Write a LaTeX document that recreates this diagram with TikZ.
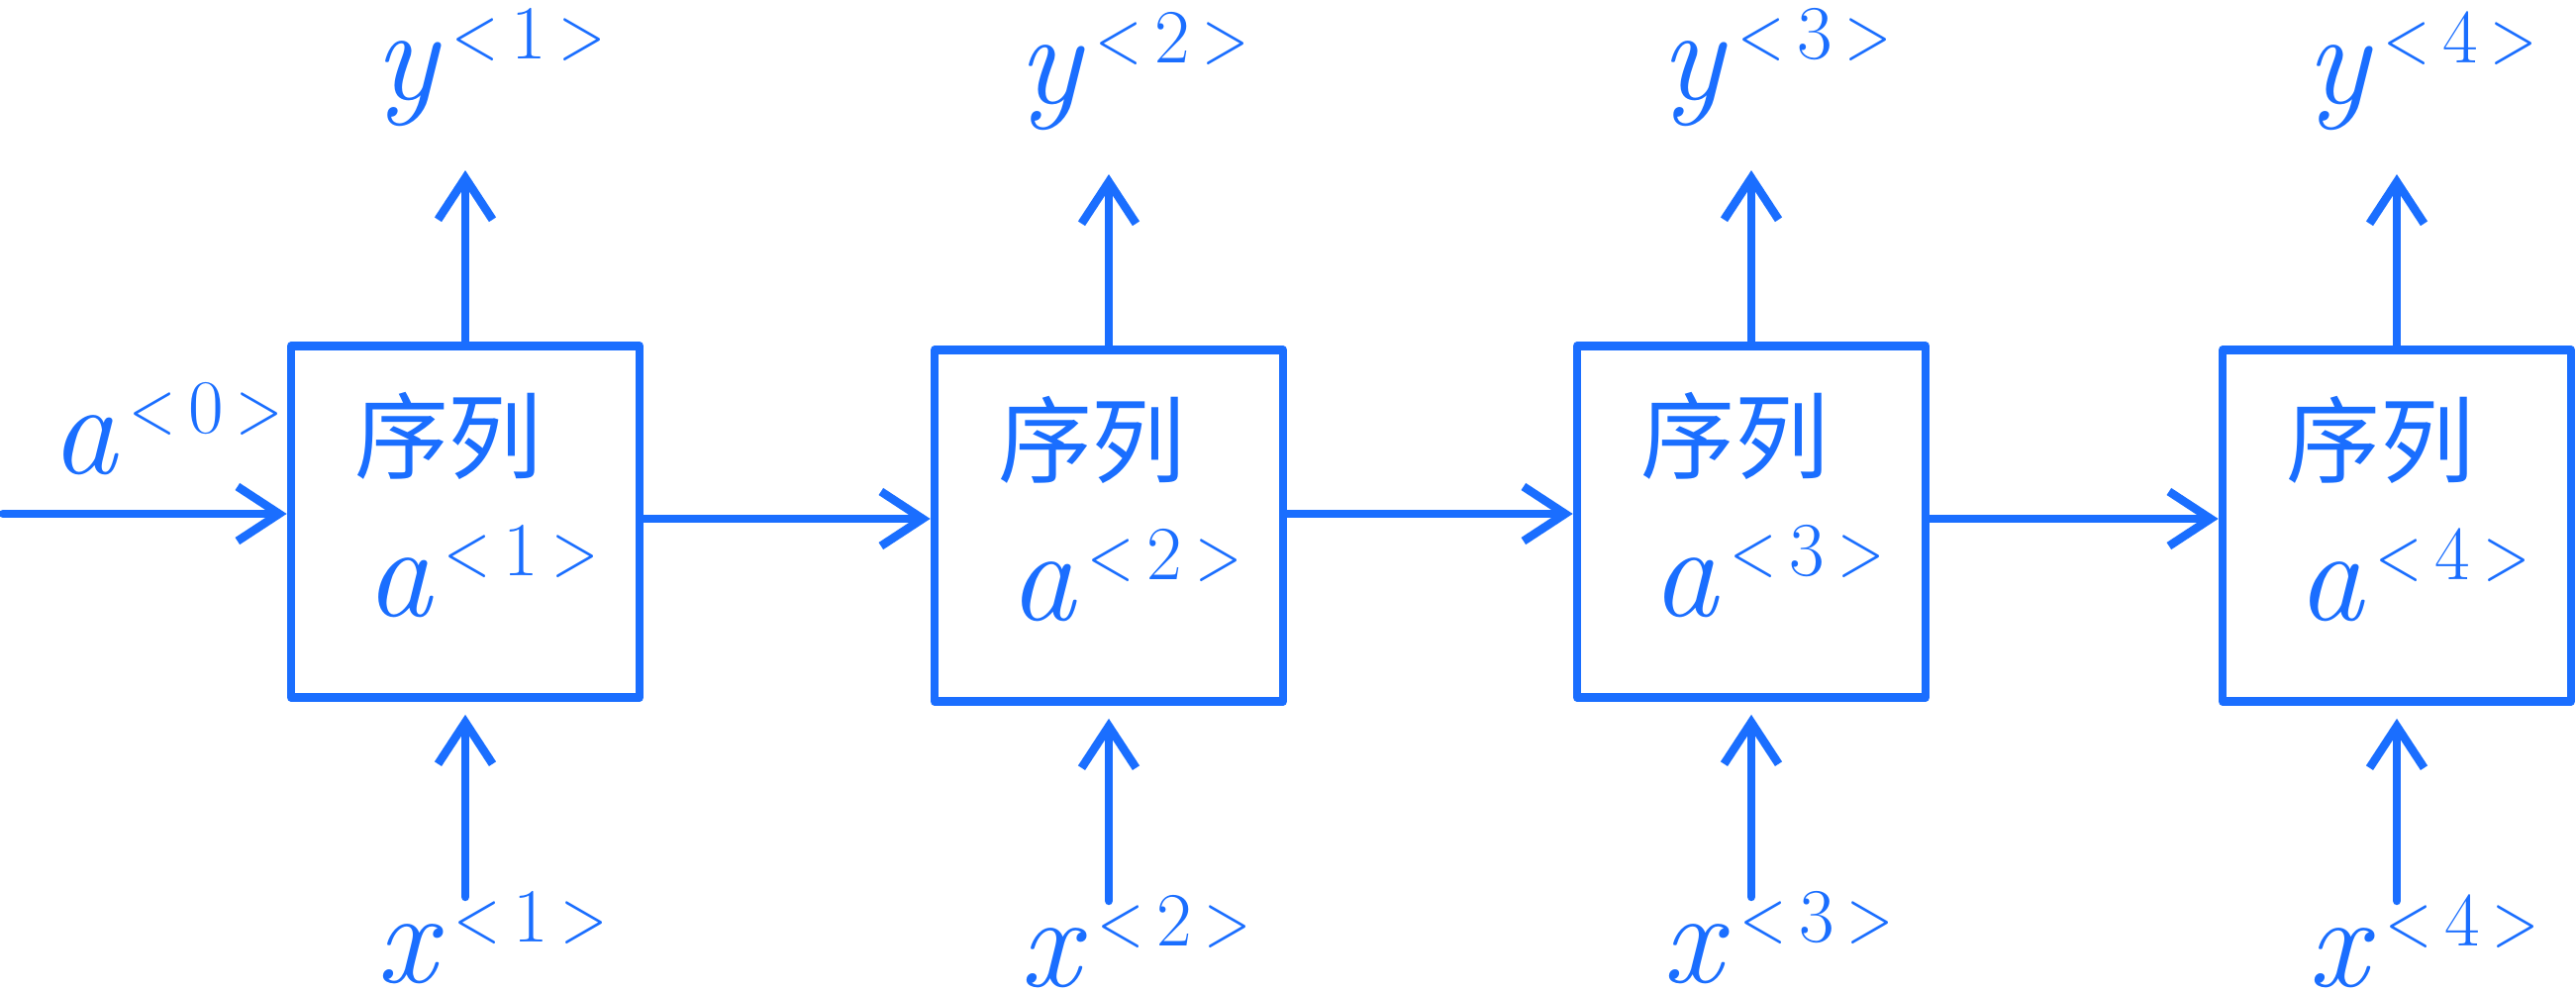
\documentclass[tikz,border=0pt]{standalone}
\usepackage{fontspec}
\usepackage{graphicx}
\newfontfamily\cjk{Noto Sans CJK SC}
\usetikzlibrary{arrows.meta}
\definecolor{pen}{RGB}{26,110,255}
\newcommand{\lbl}[2]{\textit{#1}\kern3pt\raisebox{0.3em}{\fontsize{22}{24}\selectfont\scalebox{0.8}[1]{<}\,#2\,\scalebox{0.8}[1]{>}}}
\begin{document}
\begin{tikzpicture}[x=0.01cm,y=-0.01cm,
  pen line/.style={draw=pen,line width=0.085cm,line cap=round,line join=round},
  cell/.style={pen line,rectangle,minimum width=3.52cm,minimum height=3.55cm,inner sep=0pt},
  flow/.style={pen line,-{Straight Barb[length=0.42cm,width=0.55cm,line width=0.085cm]}},
  sym/.style={text=pen,font=\fontsize{38}{44}\selectfont,inner sep=3pt,anchor=base},
  cn/.style={text=pen,font=\cjk\fontsize{27}{32}\selectfont,inner sep=0pt}]
\useasboundingbox (0,0) rectangle (2602,1000);
% cells
\node[cell] (b1) at (470,527) {};
\node[cell] (b2) at (1120,531) {};
\node[cell] (b3) at (1769,527) {};
\node[cell] (b4) at (2421,531) {};
% inner texts
\foreach \b/\k in {b1/1,b2/2,b3/3,b4/4}{
  \node[cn] (t\k) at ([xshift=-0.17cm,yshift=0.87cm]\b.center) {序列};
  \node[sym] (s\k) at ([xshift=0.17cm,yshift=-0.95cm]\b.center) {\lbl{a}{\k}};
}
% free ends
\coordinate (in) at (3,519);
\foreach \b/\k in {b1/1,b2/2,b3/3,b4/4}{
  \coordinate (top\k) at ([yshift=1.73cm]\b.north);
  \coordinate (bot\k) at ([yshift=-1.97cm]\b.south);
  \draw[flow] (\b.north) -- (top\k);
  \draw[flow,shorten >=0.13cm] (bot\k) -- (\b.south);
  \node[sym] (y\k) at ([xshift=0.25cm,yshift=0.72cm]top\k) {\lbl{y}{\k}};
  \node[sym] (x\k) at ([xshift=0.27cm,yshift=-0.86cm]bot\k) {\lbl{x}{\k}};
}
% horizontal flow
\draw[flow] (in) -- (b1.west |- in);
\draw[flow] (b1.east |- 0,524) -- (b2.west |- 0,524);
\draw[flow] (b2.east |- 0,519) -- (b3.west |- 0,519);
\draw[flow] (b3.east |- 0,524) -- (b4.west |- 0,524);
\node[sym,anchor=base west] (a0) at (40,478) {\lbl{a}{0}};
\end{tikzpicture}
\end{document}
